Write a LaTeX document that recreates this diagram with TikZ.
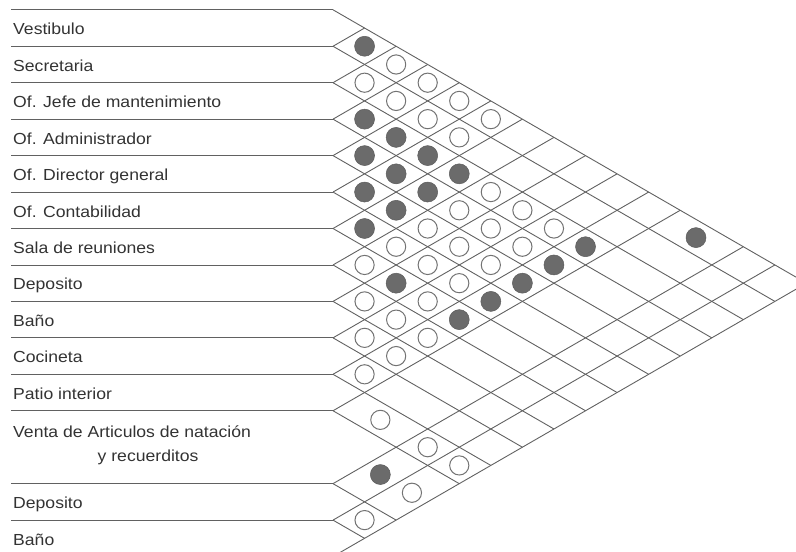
\documentclass[tikz,border=0pt]{standalone}
\usepackage{fontspec}
\setmainfont{Liberation Sans}
\newcommand\wlab[1]{\scalebox{1.1}[1]{#1}}
\begin{document}
\begin{tikzpicture}[x=1pt,y=-1pt,
  declare function={rc(\i)=(\i<12)*(\i-0.5)+(\i==12)*12+(\i>12)*(\i+0.5);
                    bk(\k)=(\k<12)*\k+(\k>11)*(\k+1);},
  gridline/.style={draw=black!62,line width=0.9pt},
  lab/.style={anchor=base west,inner sep=0pt,text=black!80,font=\fontsize{16}{20}\selectfont},
  full/.style={circle,fill=black!58,draw=black!64,line width=0.5pt,minimum size=20pt,inner sep=0pt},
  empty/.style={circle,draw=black!55,line width=1pt,fill=white,minimum size=19.2pt,inner sep=0pt}]
\def\bz{9.8}
\def\hh{36.45}
\def\xo{333}
\useasboundingbox (0,0) rectangle (796,552);
\clip (0,0) rectangle (796,552);
% grid
\foreach \k in {0,...,14}{
  \pgfmathsetmacro\kk{bk(\k)}
  \pgfmathsetmacro\by{\bz+\hh*\kk}
  \draw[gridline] (11,\by) -- (\xo,\by);
  \draw[gridline] (\xo,\by) -- ({\xo+0.866*\hh*(15-\kk)},{\by+0.5*\hh*(15-\kk)});
  \draw[gridline] (\xo,\by) -- ({\xo+0.866*\hh*\kk},{\by-0.5*\hh*\kk});
}
% labels
\foreach \i/\t in {1/Vestibulo,2/Secretaria,3/Of. Jefe de mantenimiento,4/Of. Administrador,
  5/Of. Director general,6/Of. Contabilidad,7/Sala de reuniones,8/Deposito,9/Baño,
  10/Cocineta,11/Patio interior,13/Deposito,14/Baño}{
  \node[lab] (l\i) at (13,{\bz+\hh*rc(\i)+6.8}) {\wlab{\t}};
}
\node[lab] (l12a) at (13,{\bz+\hh*12-9.5}) {\wlab{Venta de Articulos de natación}};
\node[lab] (l12b) at (97.5,{\bz+\hh*12+14.5}) {\wlab{y recuerditos}};
% relations
\foreach \i/\j in {1/2,1/12,3/4,3/5,3/6,3/7,3/11,4/5,4/6,4/7,4/11,5/6,5/7,5/11,6/7,6/11,7/9,7/11,12/13}{
  \node[full] (c\i-\j) at ({\xo+0.866*\hh*(rc(\j)-rc(\i))},{\bz+\hh*(rc(\i)+rc(\j))/2}) {};
}
\foreach \i/\j in {1/3,1/4,1/5,1/6,2/3,2/4,2/5,2/6,3/8,3/9,3/10,4/8,4/9,4/10,5/8,5/9,5/10,
  6/8,6/9,6/10,7/8,7/10,8/9,8/10,8/11,9/10,9/11,10/11,11/12,11/13,11/14,12/14,13/14}{
  \node[empty] (c\i-\j) at ({\xo+0.866*\hh*(rc(\j)-rc(\i))},{\bz+\hh*(rc(\i)+rc(\j))/2}) {};
}
\end{tikzpicture}
\end{document}
